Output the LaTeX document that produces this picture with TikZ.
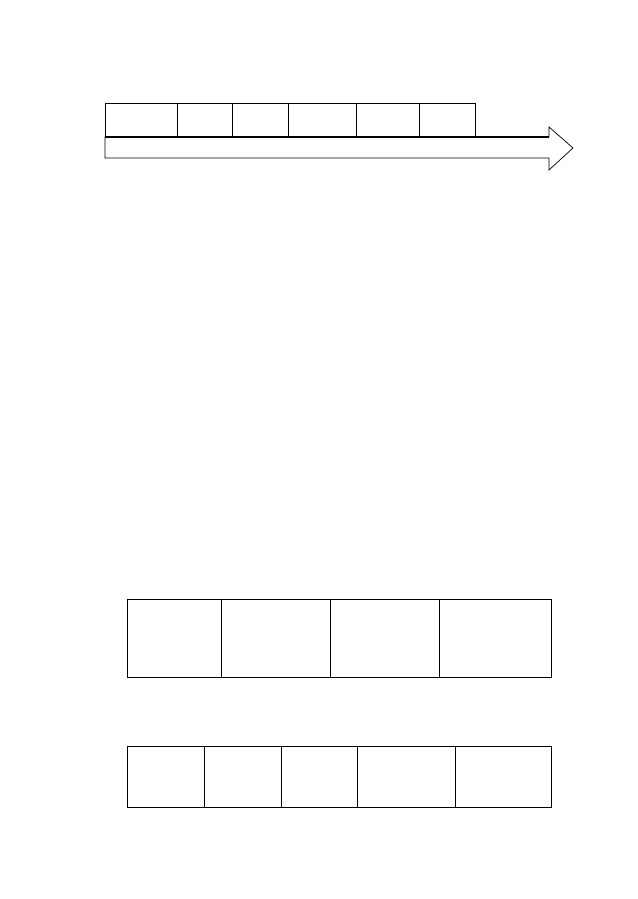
\documentclass[tikz,border=0pt]{standalone}
\usepackage{tikz}
\usetikzlibrary{positioning}

\tikzset{
  cell/.style={draw, line width=0.6pt, inner sep=0pt, outer sep=0pt, minimum height=34pt, anchor=north west},
  block/.style={draw, line width=1pt, inner sep=0pt, outer sep=0pt, anchor=north west},
  timeline/.style={draw, line width=0.7pt, line join=miter}
}

\begin{document}
\begin{tikzpicture}[x=1pt,y=-1pt]
\useasboundingbox (0,0) rectangle (637,899);
% time arrow
\draw[timeline] (105,137) -- (549,137) -- (549,127) -- (573,148) -- (549,170)
    -- (549,158) -- (105,158) -- cycle;
\draw[line width=1.1pt] (105,137) -- (549,137);
% cells on the arrow
\node[cell, minimum width=72pt] (t1) at (105,103) {};
\node[cell, minimum width=55pt, right=0pt of t1] (t2) {};
\node[cell, minimum width=56pt, right=0pt of t2] (t3) {};
\node[cell, minimum width=68pt, right=0pt of t3] (t4) {};
\node[cell, minimum width=63pt, right=0pt of t4] (t5) {};
\node[cell, minimum width=56pt, right=0pt of t5] (t6) {};
% first row
\node[block, minimum height=78pt, minimum width=94pt] (a1) at (127,599) {};
\node[block, minimum height=78pt, minimum width=109pt, right=0pt of a1] (a2) {};
\node[block, minimum height=78pt, minimum width=109pt, right=0pt of a2] (a3) {};
\node[block, minimum height=78pt, minimum width=112pt, right=0pt of a3] (a4) {};
% second row
\node[block, minimum height=61pt, minimum width=77pt] (b1) at (127,746) {};
\node[block, minimum height=61pt, minimum width=77pt, right=0pt of b1] (b2) {};
\node[block, minimum height=61pt, minimum width=76pt, right=0pt of b2] (b3) {};
\node[block, minimum height=61pt, minimum width=98pt, right=0pt of b3] (b4) {};
\node[block, minimum height=61pt, minimum width=96pt, right=0pt of b4] (b5) {};
\end{tikzpicture}
\end{document}
